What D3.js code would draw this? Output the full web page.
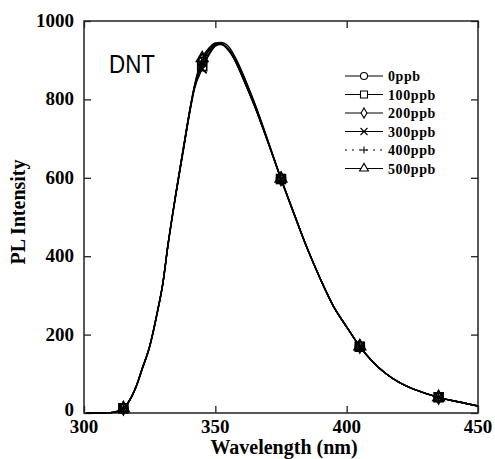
<!DOCTYPE html>
<html>
<head>
<meta charset="utf-8">
<script src="https://cdn.jsdelivr.net/npm/d3@7"></script>
<style>
  body { margin: 0; background: #fff; }
  svg { display: block; }
</style>
</head>
<body>
<svg id="chart" width="495" height="459"></svg>
<script>
const wavelengths = [301,305,310,312,315,318,320,322,325,328,330,332,335,338,340,342,345,348,350,352,355,358,360,365,370,375,380,385,390,395,400,405,410,415,420,425,430,435,440,445,450];

const ppb0   = [0,0,1,3,12,40,70,110,170,260,330,430,560,680,760,830,895,928,940,942,925,892,862,782,692,598,508,420,342,272,220,170,130,100,78,62,50,40,32,25,18];
const ppb100 = [0,0,1,3,12,40,70,110,170,260,330,430,560,680,760,828,885,922,938,941,926,893,863,783,692,597,508,420,342,272,220,169,130,100,78,62,50,40,32,25,18];
const ppb200 = [0,0,1,3,12,40,70,110,170,260,330,430,560,682,762,832,900,930,942,943,927,893,862,782,691,597,507,420,341,272,219,170,130,100,78,62,50,40,32,25,18];
const ppb300 = [0,0,1,3,11,39,69,108,168,258,328,428,557,676,756,825,878,918,936,940,928,898,870,788,694,596,506,419,341,271,219,170,130,100,78,62,50,40,32,25,18];
const ppb400 = [0,0,1,3,12,40,70,110,170,260,330,430,560,680,760,830,890,926,940,942,926,894,864,784,692,597,508,420,342,272,220,170,130,100,78,62,50,40,32,25,18];
const ppb500 = [0,0,1,3,12,41,71,111,171,261,331,432,562,684,764,834,905,934,944,945,935,902,873,790,696,598,508,420,342,272,220,170,130,100,78,62,50,40,32,25,18];

const seriesNames = ["0ppb","100ppb","200ppb","300ppb","400ppb","500ppb"];
const seriesValues = [ppb0, ppb100, ppb200, ppb300, ppb400, ppb500];
const seriesSymbols = ["circle","square","diamond","cross","plus","triangle"];
const markerWavelengths = [315,345,375,405,435];

const xTicks = [300,350,400,450];
const yTicks = [0,200,400,600,800,1000];

const svg = d3.select("#chart");
const margin = {left: 84, top: 21, right: 17, bottom: 46};
const W = 495, H = 459;

const x = d3.scaleLinear().domain([300,450]).range([margin.left, W - margin.right]);
const y = d3.scaleLinear().domain([0,1000]).range([H - margin.bottom, margin.top]);

const serif = "'Liberation Serif','Times New Roman',serif";

// frame
svg.append("rect")
  .attr("x", x(300)).attr("y", y(1000))
  .attr("width", x(450) - x(300)).attr("height", y(0) - y(1000))
  .attr("fill", "none").attr("stroke", "#222").attr("stroke-width", 1.5);

// inward ticks on all four sides
const tl = 7;
const axB = svg.append("g").attr("transform", `translate(0,${y(0)})`)
  .call(d3.axisTop(x).tickValues(xTicks).tickSize(tl).tickFormat(""));
const axT = svg.append("g").attr("transform", `translate(0,${y(1000)})`)
  .call(d3.axisBottom(x).tickValues(xTicks).tickSize(tl).tickFormat(""));
const axL = svg.append("g").attr("transform", `translate(${x(300)},0)`)
  .call(d3.axisRight(y).tickValues(yTicks).tickSize(tl).tickFormat(""));
const axR = svg.append("g").attr("transform", `translate(${x(450)},0)`)
  .call(d3.axisLeft(y).tickValues(yTicks).tickSize(tl).tickFormat(""));
[axB, axT, axL, axR].forEach(g => {
  g.select(".domain").remove();
  g.selectAll("line").attr("stroke", "#222").attr("stroke-width", 1.3);
});

// tick labels
svg.append("g").selectAll("text").data(xTicks).join("text")
  .attr("x", d => x(d)).attr("y", y(0) + 20)
  .attr("text-anchor", "middle")
  .attr("font-family", serif).attr("font-weight", "bold").attr("font-size", 19)
  .text(d => d);
svg.append("g").selectAll("text").data(yTicks).join("text")
  .attr("x", x(300) - 10).attr("y", d => y(d) + (d === 0 ? 3 : 6))
  .attr("text-anchor", "end")
  .attr("font-family", serif).attr("font-weight", "bold").attr("font-size", 19)
  .text(d => d);

// axis titles
svg.append("text")
  .attr("x", 284).attr("y", H - 5)
  .attr("text-anchor", "middle")
  .attr("font-family", serif).attr("font-weight", "bold").attr("font-size", 20)
  .text("Wavelength (nm)");
svg.append("text")
  .attr("transform", `translate(25,212) rotate(-90)`)
  .attr("text-anchor", "middle")
  .attr("font-family", serif).attr("font-weight", "bold").attr("font-size", 20)
  .text("PL Intensity");

// DNT label
svg.append("text")
  .attr("x", 109).attr("y", 73)
  .attr("font-family", "'Liberation Sans',Arial,sans-serif").attr("font-size", 26)
  .attr("textLength", 46).attr("lengthAdjust", "spacingAndGlyphs")
  .text("DNT");

// lines
const line = d3.line()
  .x((d, i) => x(wavelengths[i]))
  .y(d => y(d))
  .curve(d3.curveMonotoneX);

function symbolPath(kind, size) {
  const s = size;
  switch (kind) {
    case "circle": return d3.symbol(d3.symbolCircle, s * s * 0.8)();
    case "square": return d3.symbol(d3.symbolSquare, s * s)();
    case "diamond": return d3.symbol(d3.symbolDiamond, s * s * 0.6)();
    case "triangle": return d3.symbol(d3.symbolTriangle, s * s * 0.7)();
    case "cross": { const h = s / 2; return `M${-h},${-h}L${h},${h}M${-h},${h}L${h},${-h}`; }
    case "plus": { const h = s / 2; return `M${-h},0L${h},0M0,${-h}L0,${h}`; }
  }
}

const plot = svg.append("g");
seriesValues.forEach((vals, k) => {
  plot.append("path")
    .datum(vals)
    .attr("d", line)
    .attr("fill", "none")
    .attr("stroke", "#000")
    .attr("stroke-width", 1.4)
    .attr("stroke-dasharray", k === 4 ? "2,4" : null);
  const pts = markerWavelengths.map(w => [w, vals[wavelengths.indexOf(w)]]);
  plot.append("g").selectAll("path").data(pts).join("path")
    .attr("transform", d => `translate(${x(d[0])},${y(d[1])})`)
    .attr("d", symbolPath(seriesSymbols[k], 9))
    .attr("fill", "none")
    .attr("stroke", "#000")
    .attr("stroke-width", 1.6);
});

// legend
const legend = svg.append("g");
const lx0 = 345, lx1 = 383, ly0 = 76, ldy = 18.5;
seriesNames.forEach((name, k) => {
  const yy = ly0 + k * ldy;
  legend.append("line")
    .attr("x1", lx0).attr("x2", lx1).attr("y1", yy).attr("y2", yy)
    .attr("stroke", "#000").attr("stroke-width", 1.2)
    .attr("stroke-dasharray", k === 4 ? "2,5" : null);
  legend.append("path")
    .attr("transform", `translate(${(lx0 + lx1) / 2},${yy})`)
    .attr("d", symbolPath(seriesSymbols[k], 7))
    .attr("fill", "#fff").attr("stroke", "#000").attr("stroke-width", 1.1);
  legend.append("text")
    .attr("x", 388).attr("y", yy + 5)
    .attr("font-family", serif).attr("font-weight", "bold").attr("font-size", 14)
    .attr("letter-spacing", 0.6)
    .text(name);
});
</script>
</body>
</html>
